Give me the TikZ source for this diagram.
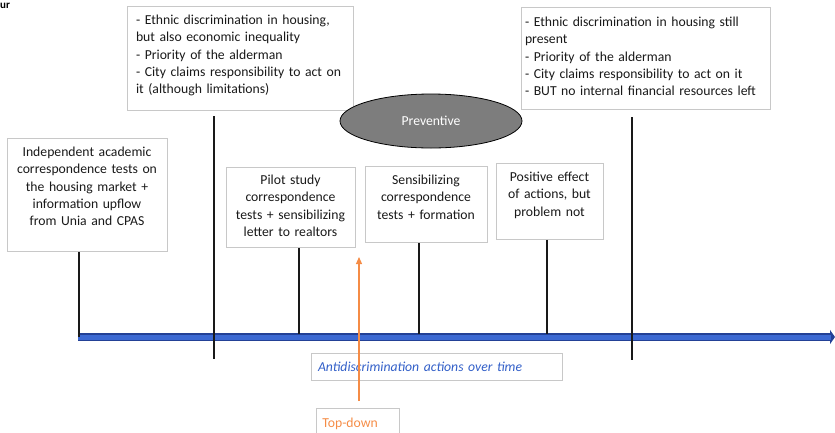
\documentclass[tikz,border=0pt]{standalone}
\usepackage{fontspec}
\setmainfont{Carlito}
\usetikzlibrary{shapes.geometric,arrows.meta}
\definecolor{boxline}{RGB}{200,200,200}
\definecolor{inkgray}{RGB}{25,25,25}
\definecolor{axisblue}{RGB}{60,105,210}
\definecolor{axisedge}{RGB}{35,65,150}
\definecolor{labelblue}{RGB}{50,95,200}
\definecolor{topdown}{RGB}{245,140,70}
\definecolor{prevgray}{RGB}{125,125,125}
\begin{document}
\begin{tikzpicture}[x=1pt,y=-1pt,
    event/.style={draw=boxline, line width=0.8pt, text=inkgray, font=\fontsize{13.7}{17.3}\selectfont,
      align=center, inner xsep=3pt, inner ysep=0pt, text height=17pt, anchor=north},
    tick/.style={line width=1.2pt, draw=inkgray}]
    \useasboundingbox (0,0) rectangle (835,432);
    \node[anchor=base west, font=\bfseries\fontsize{11}{13}\selectfont, inner sep=0pt] (fig) at (0,8) {ur};
    % time axis
    \coordinate (start) at (78,337);
    \coordinate (end) at (835,337);
    \draw[line width=8pt, draw=axisedge, -{Triangle[length=5pt,width=14pt]}] (start) -- (end);
    \draw[line width=5pt, draw=axisblue, shorten >=4pt] (start) -- (end);
    % context boxes on top
    \node[event, align=left, inner xsep=9pt, text width=208pt, text depth=86pt, text height=18pt] (ctxA) at (240,6)
        {- Ethnic discrimination in housing,\\ but also economic inequality\\ - Priority of the alderman\\
         - City claims responsibility to act on\\ it (although limitations)};
    \node[event, align=left, inner xsep=4pt, text width=241pt, text depth=83pt, text height=19pt] (ctxB) at (645.5,7)
        {- Ethnic discrimination in housing still\\ present\\ - Priority of the alderman\\
         - City claims responsibility to act on it\\ - BUT no internal financial resources left};
    % actions
    \node[event, text width=154pt, text depth=95pt, text height=18pt] (indep) at (87,138)
        {Independent academic\\ correspondence tests on\\ the housing market +\\ information upflow\\ from Unia and CPAS};
    \node[event, text width=123pt, text depth=63pt] (pilot) at (290.5,167)
        {Pilot study\\ correspondence\\ tests + sensibilizing\\ letter to realtors};
    \node[event, text width=116pt, text depth=58pt, text height=18pt] (sensib) at (426,166)
        {Sensibilizing\\ correspondence\\ tests + formation};
    \node[event, text width=101pt, text depth=58pt, text height=18pt] (effect) at (549.5,163)
        {Positive effect\\ of actions, but\\ problem not};
    \node[ellipse, draw=black, line width=0.8pt, fill=prevgray, minimum width=182pt, minimum height=54pt,
        text=white, font=\fontsize{13.7}{16}\selectfont] (prev) at (431,121) {Preventive};
    % ticks on the axis
    \coordinate (axI) at (79,337);
    \coordinate (axP) at (299,334);
    \coordinate (axS) at (419,334);
    \coordinate (axE) at (547,334);
    \coordinate (axA) at (214,337);
    \coordinate (axB) at (632,337);
    \draw[tick] (indep.south -| axI) -- (axI);
    \draw[tick] (pilot.south -| axP) -- (axP);
    \draw[tick] (sensib.south -| axS) -- (axS);
    \draw[tick] (effect.south -| axE) -- (axE);
    \draw[tick] ([yshift=221pt]axA) -- ([yshift=-22pt]axA);
    \draw[tick] ([yshift=220pt]axB) -- ([yshift=-23pt]axB);
    % labels below
    \node[draw=boxline, line width=0.8pt, text=labelblue, font=\itshape\fontsize{13.7}{16}\selectfont,
        minimum width=251pt, minimum height=27pt, align=left, text width=237pt, inner xsep=7pt] (axlabel) at (436.5,366.5)
        {Antidiscrimination actions over time};
    \node[draw=boxline, line width=0.8pt, text=topdown, font=\fontsize{13.7}{16}\selectfont,
        minimum width=83pt, minimum height=30pt, anchor=north west, align=left, text width=71pt, inner xsep=6pt] (td) at (316,408)
        {Top-down};
    \coordinate (tdtail) at (359,401);
    \coordinate (tdhead) at (359,257);
    \draw[topdown, line width=1.2pt, -{Triangle[length=7pt,width=6pt]}] (tdtail) -- (tdhead);
\end{tikzpicture}
\end{document}
